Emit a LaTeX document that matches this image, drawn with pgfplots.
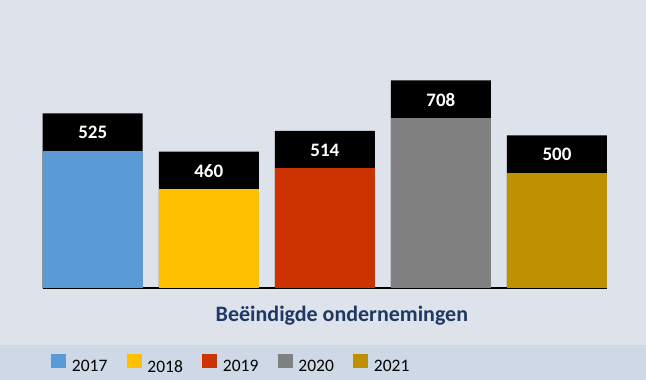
\documentclass[border=0pt]{standalone}
\usepackage{pgfplots}
\pgfplotsset{compat=1.18}
\usepackage{fontspec}
\setmainfont{Carlito}
\usetikzlibrary{backgrounds}
\definecolor{bgmain}{HTML}{DEE3EB}
\definecolor{bgleg}{HTML}{CED8E6}
\definecolor{c17}{HTML}{5B9BD5}
\definecolor{c18}{HTML}{FFC000}
\definecolor{c19}{HTML}{CC3300}
\definecolor{c20}{HTML}{808080}
\definecolor{c21}{HTML}{BF9000}
\definecolor{navy}{HTML}{1F3864}
\begin{document}
\begin{tikzpicture}
\begin{axis}[
  scale only axis,
  width=564.1bp, height=288.3bp,
  xmin=-0.43, xmax=4.43, ymin=0, ymax=288.3,
  enlargelimits=false,
  clip=false,
  hide y axis,
  axis x line*=bottom,
  x axis line style={line width=2bp,-,black},
  xtick=\empty,
  legsq/.style={legend image code/.code={\fill[##1] (0bp,-0.7bp) rectangle (15bp,13.3bp);}},
  legend columns=5,
  legend style={at={(0.0154,-0.2615)}, anchor=west, draw=none, fill=none,
    inner sep=0pt, outer sep=0pt,
    font=\fontsize{17.5bp}{21bp}\selectfont,
    nodes={inner sep=0pt},
    /tikz/every odd column/.append style={column sep=5.5bp},
    /tikz/every even column/.append style={column sep=19.5bp}},
]
% black caps (total height), labels are the counts
\addplot[ybar, bar width=100bp, bar shift=0pt, fill=black, draw=none, forget plot,
  point meta=explicit symbolic,
  nodes near coords={\pgfplotspointmeta},
  nodes near coords align={anchor=center},
  every node near coord/.append style={yshift=-19.3bp, text=white,
    font=\bfseries\fontsize{19bp}{23bp}\selectfont}]
  coordinates {(0,175.0) [525] (1,136.6) [460] (2,157.3) [514] (3,208.0) [708] (4,153.0) [500]};
\addplot[ybar, bar width=100bp, bar shift=0pt, fill=c17, draw=none, legsq] coordinates {(0,137.3)};
\addlegendentry{2017}
\addplot[ybar, bar width=100bp, bar shift=0pt, fill=c18, draw=none, legsq] coordinates {(1,99.0)};
\addlegendentry{2018}
\addplot[ybar, bar width=100bp, bar shift=0pt, fill=c19, draw=none, legsq] coordinates {(2,120.6)};
\addlegendentry{2019}
\addplot[ybar, bar width=100bp, bar shift=0pt, fill=c20, draw=none, legsq] coordinates {(3,170.0)};
\addlegendentry{2020}
\addplot[ybar, bar width=100bp, bar shift=0pt, fill=c21, draw=none, legsq] coordinates {(4,115.6)};
\addlegendentry{2021}
\node[anchor=base, text=navy, font=\bfseries\fontsize{22bp}{26bp}\selectfont]
  at (axis cs:2.147,-33.4) {Beëindigde ondernemingen};
\coordinate (tl) at (axis cs:-0.7987,288.3);
\coordinate (br) at (axis cs:4.767,-91.7);
\coordinate (lg) at (axis cs:-0.7987,-56.7);
\end{axis}
\begin{scope}[on background layer]
\fill[bgmain] (tl) rectangle (br);
\fill[bgleg] (lg) rectangle (br);
\end{scope}
\end{tikzpicture}
\end{document}
